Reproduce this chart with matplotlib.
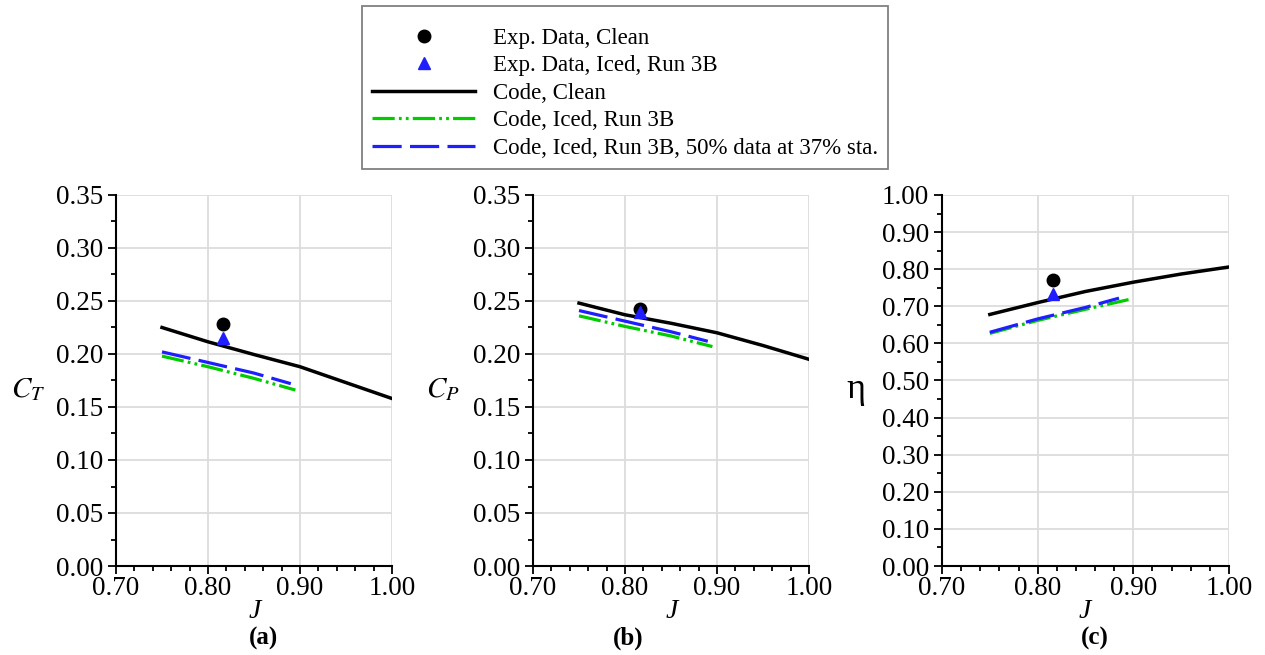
import matplotlib
matplotlib.use('Agg')
import matplotlib.pyplot as plt
from matplotlib.ticker import MultipleLocator, FormatStrFormatter

plt.rcParams['font.family'] = ['Liberation Serif', 'DejaVu Serif']
plt.rcParams['mathtext.fontset'] = 'stix'
plt.rcParams['lines.scale_dashes'] = False

# advance ratio for each curve
J_clean = [0.75, 0.80, 0.85, 0.90, 0.95, 1.00]
J_iced = [0.75, 0.80, 0.85, 0.895]
J_iced50 = [0.75, 0.80, 0.85, 0.89]
J_iced50_eta = [0.75, 0.80, 0.85, 0.885]
J_exp = [0.816]

# thrust coefficient
ct_clean = [0.225, 0.2115, 0.1995, 0.188, 0.173, 0.158]
ct_iced = [0.198, 0.188, 0.177, 0.166]
ct_iced50 = [0.202, 0.192, 0.182, 0.172]
ct_exp_clean = [0.228]
ct_exp_iced = [0.215]

# power coefficient
cp_clean = [0.248, 0.237, 0.229, 0.220, 0.208, 0.195]
cp_iced = [0.236, 0.226, 0.217, 0.207]
cp_iced50 = [0.241, 0.231, 0.221, 0.212]
cp_exp_clean = [0.242]
cp_exp_iced = [0.240]

# efficiency
eta_clean = [0.678, 0.710, 0.740, 0.765, 0.787, 0.806]
eta_iced = [0.627, 0.662, 0.692, 0.718]
eta_iced50 = [0.630, 0.666, 0.697, 0.722]
eta_exp_clean = [0.770]
eta_exp_iced = [0.733]

green = '#00cc00'
blue = '#1e1eff'

fig = plt.figure(figsize=(12.65, 6.55), dpi=100)
W, H = 1265, 655


def make_axes(left, right, top=195, bottom=566):
    return fig.add_axes([left / W, (H - bottom) / H, (right - left) / W, (bottom - top) / H])


panels = [
    (make_axes(116, 392), ct_clean, ct_iced, ct_iced50, J_iced50, ct_exp_clean, ct_exp_iced,
     0.35, 0.05, r'$C_T$', 21, -0.32, 255, '(a)', 263),
    (make_axes(533, 809), cp_clean, cp_iced, cp_iced50, J_iced50, cp_exp_clean, cp_exp_iced,
     0.35, 0.05, r'$C_P$', 21, -0.325, 672, '(b)', 628),
    (make_axes(942, 1229), eta_clean, eta_iced, eta_iced50, J_iced50_eta, eta_exp_clean, eta_exp_iced,
     1.0, 0.10, 'η', 26, -0.30, 1085, '(c)', 1095),
]

handles = None
for ax, clean, iced, iced50, j50, exp_c, exp_i, ymax, ystep, ylab, ylsize, ylx, jx, tag, tagx in panels:
    h3, = ax.plot(J_clean, clean, color='black', lw=2.5, zorder=3)
    h4, = ax.plot(J_iced, iced, color=green, lw=2.3, dashes=(16, 3, 2, 3, 2, 3), zorder=3)
    h5, = ax.plot(j50, iced50, color=blue, lw=2.3, dashes=(21, 6), zorder=3)
    h1, = ax.plot(J_exp, exp_c, 'o', color='black', ms=9, zorder=4)
    h2, = ax.plot(J_exp, exp_i, '^', color=blue, ms=8.5, zorder=5)
    handles = [h1, h2, h3, h4, h5]

    ax.set_xlim(0.70, 1.00)
    ax.set_ylim(0, ymax)
    ax.xaxis.set_major_locator(MultipleLocator(0.10))
    ax.xaxis.set_minor_locator(MultipleLocator(0.02))
    ax.yaxis.set_major_locator(MultipleLocator(ystep))
    ax.yaxis.set_minor_locator(MultipleLocator(ystep / 2))
    ax.xaxis.set_major_formatter(FormatStrFormatter('%.2f'))
    ax.yaxis.set_major_formatter(FormatStrFormatter('%.2f'))
    ax.tick_params(which='major', direction='out', length=5.8, width=1.3, labelsize=19.5, pad=1.5)
    ax.tick_params(axis='y', which='major', pad=3.5)
    ax.tick_params(which='minor', direction='out', length=3.6, width=1.3)
    ax.grid(True, which='major', color='#dcdcdc', lw=1.3)
    ax.set_axisbelow(True)
    for side in ('top', 'right'):
        ax.spines[side].set_visible(False)
    for side in ('left', 'bottom'):
        ax.spines[side].set_linewidth(1.5)

    ax.set_ylabel(ylab, rotation=0, fontsize=ylsize, va='center', ha='center')
    ax.yaxis.set_label_coords(ylx, 0.475)
    fig.text(jx / W, 1 - 611 / H, 'J', fontsize=20, style='italic', ha='center', va='center')
    fig.text(tagx / W, 1 - 638 / H, tag, fontsize=18, weight='bold', ha='center', va='center')

labels = ['Exp. Data, Clean', 'Exp. Data, Iced, Run 3B', 'Code, Clean',
          'Code, Iced, Run 3B', 'Code, Iced, Run 3B, 50% data at 37% sta.']
leg = fig.legend(handles, labels, loc='upper left', bbox_to_anchor=(362 / W, 1 - 6 / H),
                 borderaxespad=0, fontsize=16.5, handlelength=4.5, handletextpad=0.75,
                 labelspacing=0.28, borderpad=0.45, fancybox=False, framealpha=1,
                 edgecolor='#808080', title=' ', title_fontsize=5)
leg.get_frame().set_linewidth(1.3)

fig.savefig('out.png', dpi=100)
